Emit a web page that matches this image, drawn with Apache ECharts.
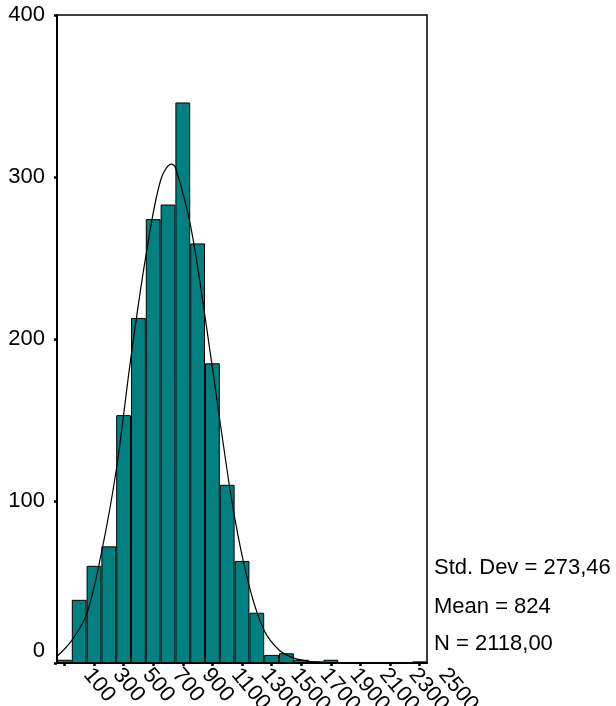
<!DOCTYPE html>
<html>
<head>
<meta charset="utf-8">
<script src="https://cdn.jsdelivr.net/npm/echarts@6/dist/echarts.min.js"></script>
<style>
html,body{margin:0;padding:0;background:#fff;}
#c{width:616px;height:706px;}
</style>
</head>
<body>
<div id="c"></div>
<script>
// Bin centers (width 100)
const binLabels = ['100','200','300','400','500','600','700','800','900','1000','1100','1200','1300','1400','1500','1600','1700','1800','1900','2000','2100','2200','2300','2400','2500'];
// Frequencies
const counts = [2,39,60,72,153,213,274,283,346,259,185,110,63,31,5,6,2,1,2,0,0,0,0,0,1];
// Normal curve (x in data units, y in counts)
const curveX = [50,150,250,350,450,550,650,750,824,850,950,1050,1150,1250,1350,1450,1550,1650,1750,1850,2000,2550];
const curveY = [4,14,30,68,119,189,251,298,308,306,271,214,150,90,47,20,8,3,1,0.3,0,0];
const yTicks = [0,100,200,300,400];
const statLines = ['Std. Dev = 273,46','Mean = 824','N = 2118,00'];

const FONT = '"Liberation Sans", Arial, sans-serif';
const chart = echarts.init(document.getElementById('c'), null, {renderer:'canvas'});

const gLeft = 57, gTop = 15, gW = 370, gH = 648;

chart.setOption({
  animation: false,
  backgroundColor: '#fff',
  grid: [
    {left: gLeft, top: gTop, width: gW, height: gH, show: true, borderColor: '#000', borderWidth: 1.5, backgroundColor: 'transparent', containLabel: false, outerBoundsMode: 'none'},
    {left: gLeft + 23, top: gTop, width: gW, height: gH, show: false, containLabel: false, outerBoundsMode: 'none'}
  ],
  xAxis: [
    {
      type: 'category', gridIndex: 0, data: binLabels,
      axisLine: {lineStyle: {color: '#000', width: 2}},
      axisTick: {show: true, interval: 1, alignWithLabel: true, length: 3, lineStyle: {color: '#000', width: 2.5}},
      axisLabel: {show: false},
      splitLine: {show: false}
    },
    {
      type: 'value', gridIndex: 0, min: 50, max: 2550, show: false
    },
    {
      type: 'category', gridIndex: 1, data: binLabels,
      axisLine: {show: false}, axisTick: {show: false}, splitLine: {show: false},
      axisLabel: {show: true, interval: 1, rotate: -50, margin: 8, fontSize: 22, fontFamily: FONT, color: '#000'}
    }
  ],
  yAxis: [
    {
      type: 'value', gridIndex: 0, min: yTicks[0], max: yTicks[yTicks.length-1], interval: 100,
      axisLine: {show: true, lineStyle: {color: '#000', width: 2}},
      axisTick: {show: true, length: 3, lineStyle: {color: '#000', width: 2.5}},
      splitLine: {show: false},
      axisLabel: {
        margin: 12, fontSize: 22, fontFamily: FONT, color: '#000',
        formatter: function (v) { return v === 0 ? '{z|0}' : String(v); },
        rich: {z: {fontSize: 22, fontFamily: FONT, color: '#000', padding: [0, 0, 24, 0]}}
      }
    },
    {type: 'value', gridIndex: 1, min: 0, max: 400, show: false}
  ],
  series: [
    {
      type: 'bar', xAxisIndex: 0, yAxisIndex: 0, data: counts,
      barCategoryGap: '0%',
      itemStyle: {color: '#008080', borderColor: '#000', borderWidth: 1}
    },
    {
      type: 'line', xAxisIndex: 1, yAxisIndex: 0,
      data: curveX.map((x, i) => [x, curveY[i]]),
      smooth: 0.35, symbol: 'none',
      lineStyle: {color: '#000', width: 1.2}
    }
  ],
  graphic: statLines.map((t, i) => ({
    type: 'text', x: 434, y: [568, 607, 644][i],
    style: {text: t, fontSize: 22, fontFamily: FONT, fill: '#000', verticalAlign: 'middle', align: 'left'}
  }))
});
</script>
</body>
</html>
